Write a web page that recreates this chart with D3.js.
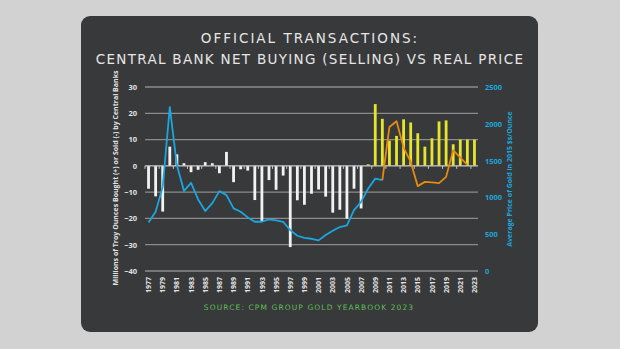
<!DOCTYPE html>
<html>
<head>
<meta charset="utf-8">
<script src="https://cdn.jsdelivr.net/npm/d3@7"></script>
<style>
  html, body { margin: 0; padding: 0; background: #d2d2d2; }
  svg { display: block; }
</style>
</head>
<body>
<svg id="chart" width="620" height="349"></svg>
<script>
// Calendar years on the category axis
const years = d3.range(1977, 2024);

// Net central bank purchases (+) or sales (-), millions of troy ounces
const netBuying = [
  -8.7, -11.6, -17.4, 7.3, 4.4, 1.0, -2.4, -1.5, 1.4, 1.0,
  -2.8, 5.3, -6.2, -1.3, -1.8, -13.0, -21.1, -5.4, -9.1, -3.7,
  -30.9, -13.1, -14.8, -10.6, -9.0, -11.7, -17.8, -16.7, -20.1, -8.7,
  -16.2, 0.6, 23.5, 17.9, 9.6, 11.4, 17.7, 16.5, 12.4, 7.3,
  10.5, 16.9, 17.3, 8.2, 10.0, 10.0, 10.0
];

// Average gold price in 2015 dollars per ounce, 1977-2010
const priceEarlyYears = d3.range(1977, 2011);
const priceEarly = [
  660, 805, 1143, 2228, 1437, 1089, 1198, 972, 814, 922,
  1085, 1031, 850, 805, 728, 669, 669, 701, 687, 669,
  556, 479, 450, 438, 416, 488, 547, 597, 620, 827,
  940, 1121, 1255, 1234
];

// Average gold price in 2015 dollars per ounce, 2010-2022
const priceLateYears = d3.range(2010, 2023);
const priceLate = [
  1234, 1957, 2034, 1677, 1482, 1153, 1211, 1203, 1193, 1279,
  1641, 1542, 1441
];

const leftTicks = [30, 20, 10, 0, -10, -20, -30, -40];
const rightTicks = [0, 500, 1000, 1500, 2000, 2500];
const yearLabels = years.filter(y => (y - 1977) % 2 === 0);

const titleLines = ["OFFICIAL TRANSACTIONS:", "CENTRAL BANK NET BUYING (SELLING) VS REAL PRICE"];
const sourceText = "SOURCE: CPM GROUP GOLD YEARBOOK 2023";
const leftTitle = "Millions of Troy Ounces Bought (+) or Sold (-) by Central Banks";
const rightTitle = "Average Price of Gold in 2015 $s/Ounce";

const svg = d3.select("#chart");

// dark card
svg.append("rect")
  .attr("x", 81).attr("y", 16).attr("width", 457).attr("height", 316)
  .attr("rx", 9).attr("fill", "#38393b");

// titles
const titleFont = "'DejaVu Sans', sans-serif";
svg.append("text")
  .attr("x", 310).attr("y", 43)
  .attr("text-anchor", "middle")
  .attr("font-family", titleFont).attr("font-size", 13.5)
  .attr("letter-spacing", 2.0)
  .attr("fill", "#e6e6e6")
  .text(titleLines[0]);
svg.append("text")
  .attr("x", 310).attr("y", 64)
  .attr("text-anchor", "middle")
  .attr("font-family", titleFont).attr("font-size", 13.5)
  .attr("letter-spacing", 1.3)
  .attr("fill", "#e6e6e6")
  .text(titleLines[1]);

// scales
const x = d3.scaleBand().domain(years).range([145, 478]).paddingInner(0.6).paddingOuter(0.3);
const step = x.step();
const xc = yr => x(yr) + x.bandwidth() / 2;
const yL = d3.scaleLinear().domain([-40, 30]).range([271, 87]);
const yR = d3.scaleLinear().domain([0, 2500]).range([271, 87]);

// gridlines (non-zero values)
svg.append("g")
  .selectAll("line")
  .data(leftTicks.filter(t => t !== 0))
  .join("line")
  .attr("x1", 145).attr("x2", 478)
  .attr("y1", d => yL(d)).attr("y2", d => yL(d))
  .attr("stroke", "#8c8c8c").attr("stroke-width", 1.3);

// left axis labels
const axisFont = "'Open Sans', 'DejaVu Sans', sans-serif";
const leftAxis = d3.axisLeft(yL).tickValues(leftTicks).tickSize(0).tickPadding(8);
const gL = svg.append("g").attr("transform", "translate(145,0)").call(leftAxis);
gL.select(".domain").remove();
gL.selectAll("text")
  .attr("font-family", axisFont).attr("font-size", 7.5).attr("font-weight", 700)
  .attr("fill", "#e2e2e2");

// right axis labels
const rightAxis = d3.axisRight(yR).tickValues(rightTicks).tickFormat(d3.format("d"))
  .tickSize(0).tickPadding(7);
const gR = svg.append("g").attr("transform", "translate(478,0)").call(rightAxis);
gR.select(".domain").remove();
gR.selectAll("text")
  .attr("font-family", axisFont).attr("font-size", 7.5).attr("font-weight", 700)
  .attr("fill", "#1ea6db");

// bars
svg.append("g")
  .selectAll("rect")
  .data(years.map((yr, i) => ({ yr, v: netBuying[i] })))
  .join("rect")
  .attr("x", d => xc(d.yr) - 1.4)
  .attr("width", 2.8)
  .attr("y", d => yL(Math.max(0, d.v)))
  .attr("height", d => Math.abs(yL(d.v) - yL(0)))
  .attr("fill", d => d.yr >= 2008 ? "#e4e62c" : "#f2f2f2");

// zero axis with ticks every two categories
svg.append("line")
  .attr("x1", 145).attr("x2", 478)
  .attr("y1", yL(0)).attr("y2", yL(0))
  .attr("stroke", "#c8c8c8").attr("stroke-width", 1.2);
svg.append("g")
  .selectAll("line")
  .data(d3.range(0, years.length + 1, 2))
  .join("line")
  .attr("x1", i => 145 + i * step).attr("x2", i => 145 + i * step)
  .attr("y1", yL(0)).attr("y2", yL(0) + 3)
  .attr("stroke", "#c8c8c8").attr("stroke-width", 1);

// price lines
const line = d3.line().x(d => xc(d[0])).y(d => yR(d[1]));
svg.append("path")
  .datum(priceEarlyYears.map((yr, i) => [yr, priceEarly[i]]))
  .attr("d", line)
  .attr("fill", "none").attr("stroke", "#1ba6df").attr("stroke-width", 1.8)
  .attr("stroke-linejoin", "round");
svg.append("path")
  .datum(priceLateYears.map((yr, i) => [yr, priceLate[i]]))
  .attr("d", line)
  .attr("fill", "none").attr("stroke", "#e88a0e").attr("stroke-width", 1.8)
  .attr("stroke-linejoin", "round");

// year labels
svg.append("g")
  .selectAll("text")
  .data(yearLabels)
  .join("text")
  .attr("transform", d => `translate(${xc(d) + 2.6},277) rotate(-90)`)
  .attr("text-anchor", "end")
  .attr("font-family", axisFont).attr("font-size", 7).attr("font-weight", 700)
  .attr("fill", "#e2e2e2")
  .text(d => d);

// axis titles
svg.append("text")
  .attr("transform", "translate(118,178) rotate(-90)")
  .attr("text-anchor", "middle")
  .attr("font-family", axisFont).attr("font-size", 7).attr("font-weight", 700)
  .attr("fill", "#e2e2e2")
  .text(leftTitle);
svg.append("text")
  .attr("transform", "translate(512,179) rotate(-90)")
  .attr("text-anchor", "middle")
  .attr("font-family", axisFont).attr("font-size", 7).attr("font-weight", 700)
  .attr("fill", "#1ea6db")
  .text(rightTitle);

// source note
svg.append("text")
  .attr("x", 309).attr("y", 310)
  .attr("text-anchor", "middle")
  .attr("font-family", titleFont).attr("font-size", 7.5)
  .attr("letter-spacing", 1.1)
  .attr("fill", "#5cbf55")
  .text(sourceText);
</script>
</body>
</html>
